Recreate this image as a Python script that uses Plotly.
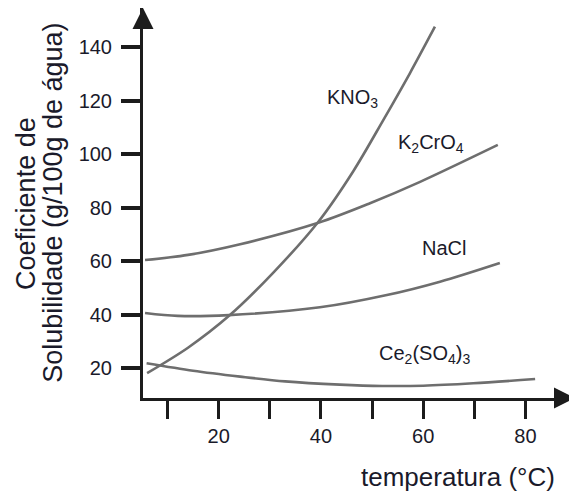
import plotly.graph_objects as go

# ---- data ----
kno3_x = [6, 14, 22.2, 30.6, 39.5, 46.3, 52.2, 57.4, 62.3]
kno3_y = [18.1, 27.6, 39.8, 55.5, 74.7, 93.5, 112.7, 130.2, 147.6]

k2cro4_x = [5.6, 14, 24.2, 39.5, 49.6, 59.4, 74.6]
k2cro4_y = [60.4, 62.3, 66.3, 74.3, 81.6, 89.6, 103.4]

nacl_x = [5.6, 12, 22, 39.8, 52.9, 63.3, 75]
nacl_y = [40.6, 39.5, 39.8, 42.7, 47.3, 52.3, 59.3]

ce_x = [5.9, 15, 24.2, 33, 43.7, 52, 60, 69.8, 81.9]
ce_y = [21.8, 19.0, 16.8, 15.0, 13.8, 13.3, 13.4, 14.3, 15.9]

x_ticks = [10, 20, 30, 40, 50, 60, 70, 80]
x_ticktext = ["", "20", "", "40", "", "60", "", "80"]
y_ticks = [20, 40, 60, 80, 100, 120, 140]

labels = ["KNO<sub>3</sub>", "K<sub>2</sub>CrO<sub>4</sub>", "NaCl", "Ce<sub>2</sub>(SO<sub>4</sub>)<sub>3</sub>"]
label_x = [40.8, 54.7, 59.4, 50.9]
label_y = [120.6, 104.1, 64.9, 24.9]

X_RANGE = [5.2, 89.7]
Y_RANGE = [8.8, 154.6]

FONT = "Liberation Sans, Arial, sans-serif"
CURVE = "#6e6e6e"
AXIS = "#1c1c1c"
TEXT = "#1a1a2a"

fig = go.Figure()
for xs, ys in [(kno3_x, kno3_y), (k2cro4_x, k2cro4_y), (nacl_x, nacl_y), (ce_x, ce_y)]:
    fig.add_trace(go.Scatter(x=xs, y=ys, mode="lines",
                             line=dict(color=CURVE, width=2.6, shape="spline", smoothing=0.9),
                             hoverinfo="skip", showlegend=False))

for t, lx, ly in zip(labels, label_x, label_y):
    fig.add_annotation(x=lx, y=ly, xref="x", yref="y", text=t, showarrow=False,
                       xanchor="left", yanchor="middle",
                       font=dict(family=FONT, size=20, color=TEXT))

# arrow heads at axis ends
fig.add_annotation(x=X_RANGE[1], y=Y_RANGE[0], ax=X_RANGE[1] - 4, ay=Y_RANGE[0],
                   xref="x", yref="y", axref="x", ayref="y", text="",
                   showarrow=True, arrowhead=2, arrowsize=1.4, arrowwidth=3, arrowcolor=AXIS)
fig.add_annotation(x=X_RANGE[0], y=Y_RANGE[1], ax=X_RANGE[0], ay=Y_RANGE[1] - 8,
                   xref="x", yref="y", axref="x", ayref="y", text="",
                   showarrow=True, arrowhead=2, arrowsize=1.4, arrowwidth=3, arrowcolor=AXIS)

# axis titles
fig.add_annotation(x=-0.271, y=0.5, xref="paper", yref="paper", text="Coeficiente de",
                   textangle=-90, showarrow=False, xanchor="center", yanchor="middle",
                   font=dict(family=FONT, size=27, color=TEXT))
fig.add_annotation(x=-0.209, y=0.5, xref="paper", yref="paper", text="Solubilidade (g/100g de água)",
                   textangle=-90, showarrow=False, xanchor="center", yanchor="middle",
                   font=dict(family=FONT, size=27, color=TEXT))
fig.add_annotation(x=0.958, y=-0.2026, xref="paper", yref="paper",
                   text="temperatura (°C)", showarrow=False, xanchor="right", yanchor="middle",
                   font=dict(family=FONT, size=26, color=TEXT))

fig.update_layout(
    width=569, height=485,
    margin=dict(l=135, r=2, t=0, b=95),
    paper_bgcolor="white", plot_bgcolor="white",
    xaxis=dict(range=X_RANGE, tickvals=x_ticks, ticktext=x_ticktext,
               showgrid=False, zeroline=False, showline=True, linecolor=AXIS, linewidth=3,
               ticks="outside", ticklen=18, tickwidth=3, tickcolor=AXIS,
               tickfont=dict(family=FONT, size=20, color=TEXT), ticklabelstandoff=0),
    yaxis=dict(range=Y_RANGE, tickvals=y_ticks,
               showgrid=False, zeroline=False, showline=True, linecolor=AXIS, linewidth=3,
               ticks="outside", ticklen=19, tickwidth=3.5, tickcolor=AXIS,
               tickfont=dict(family=FONT, size=20, color=TEXT), ticklabelstandoff=5),
)

fig.write_html("out.html")
